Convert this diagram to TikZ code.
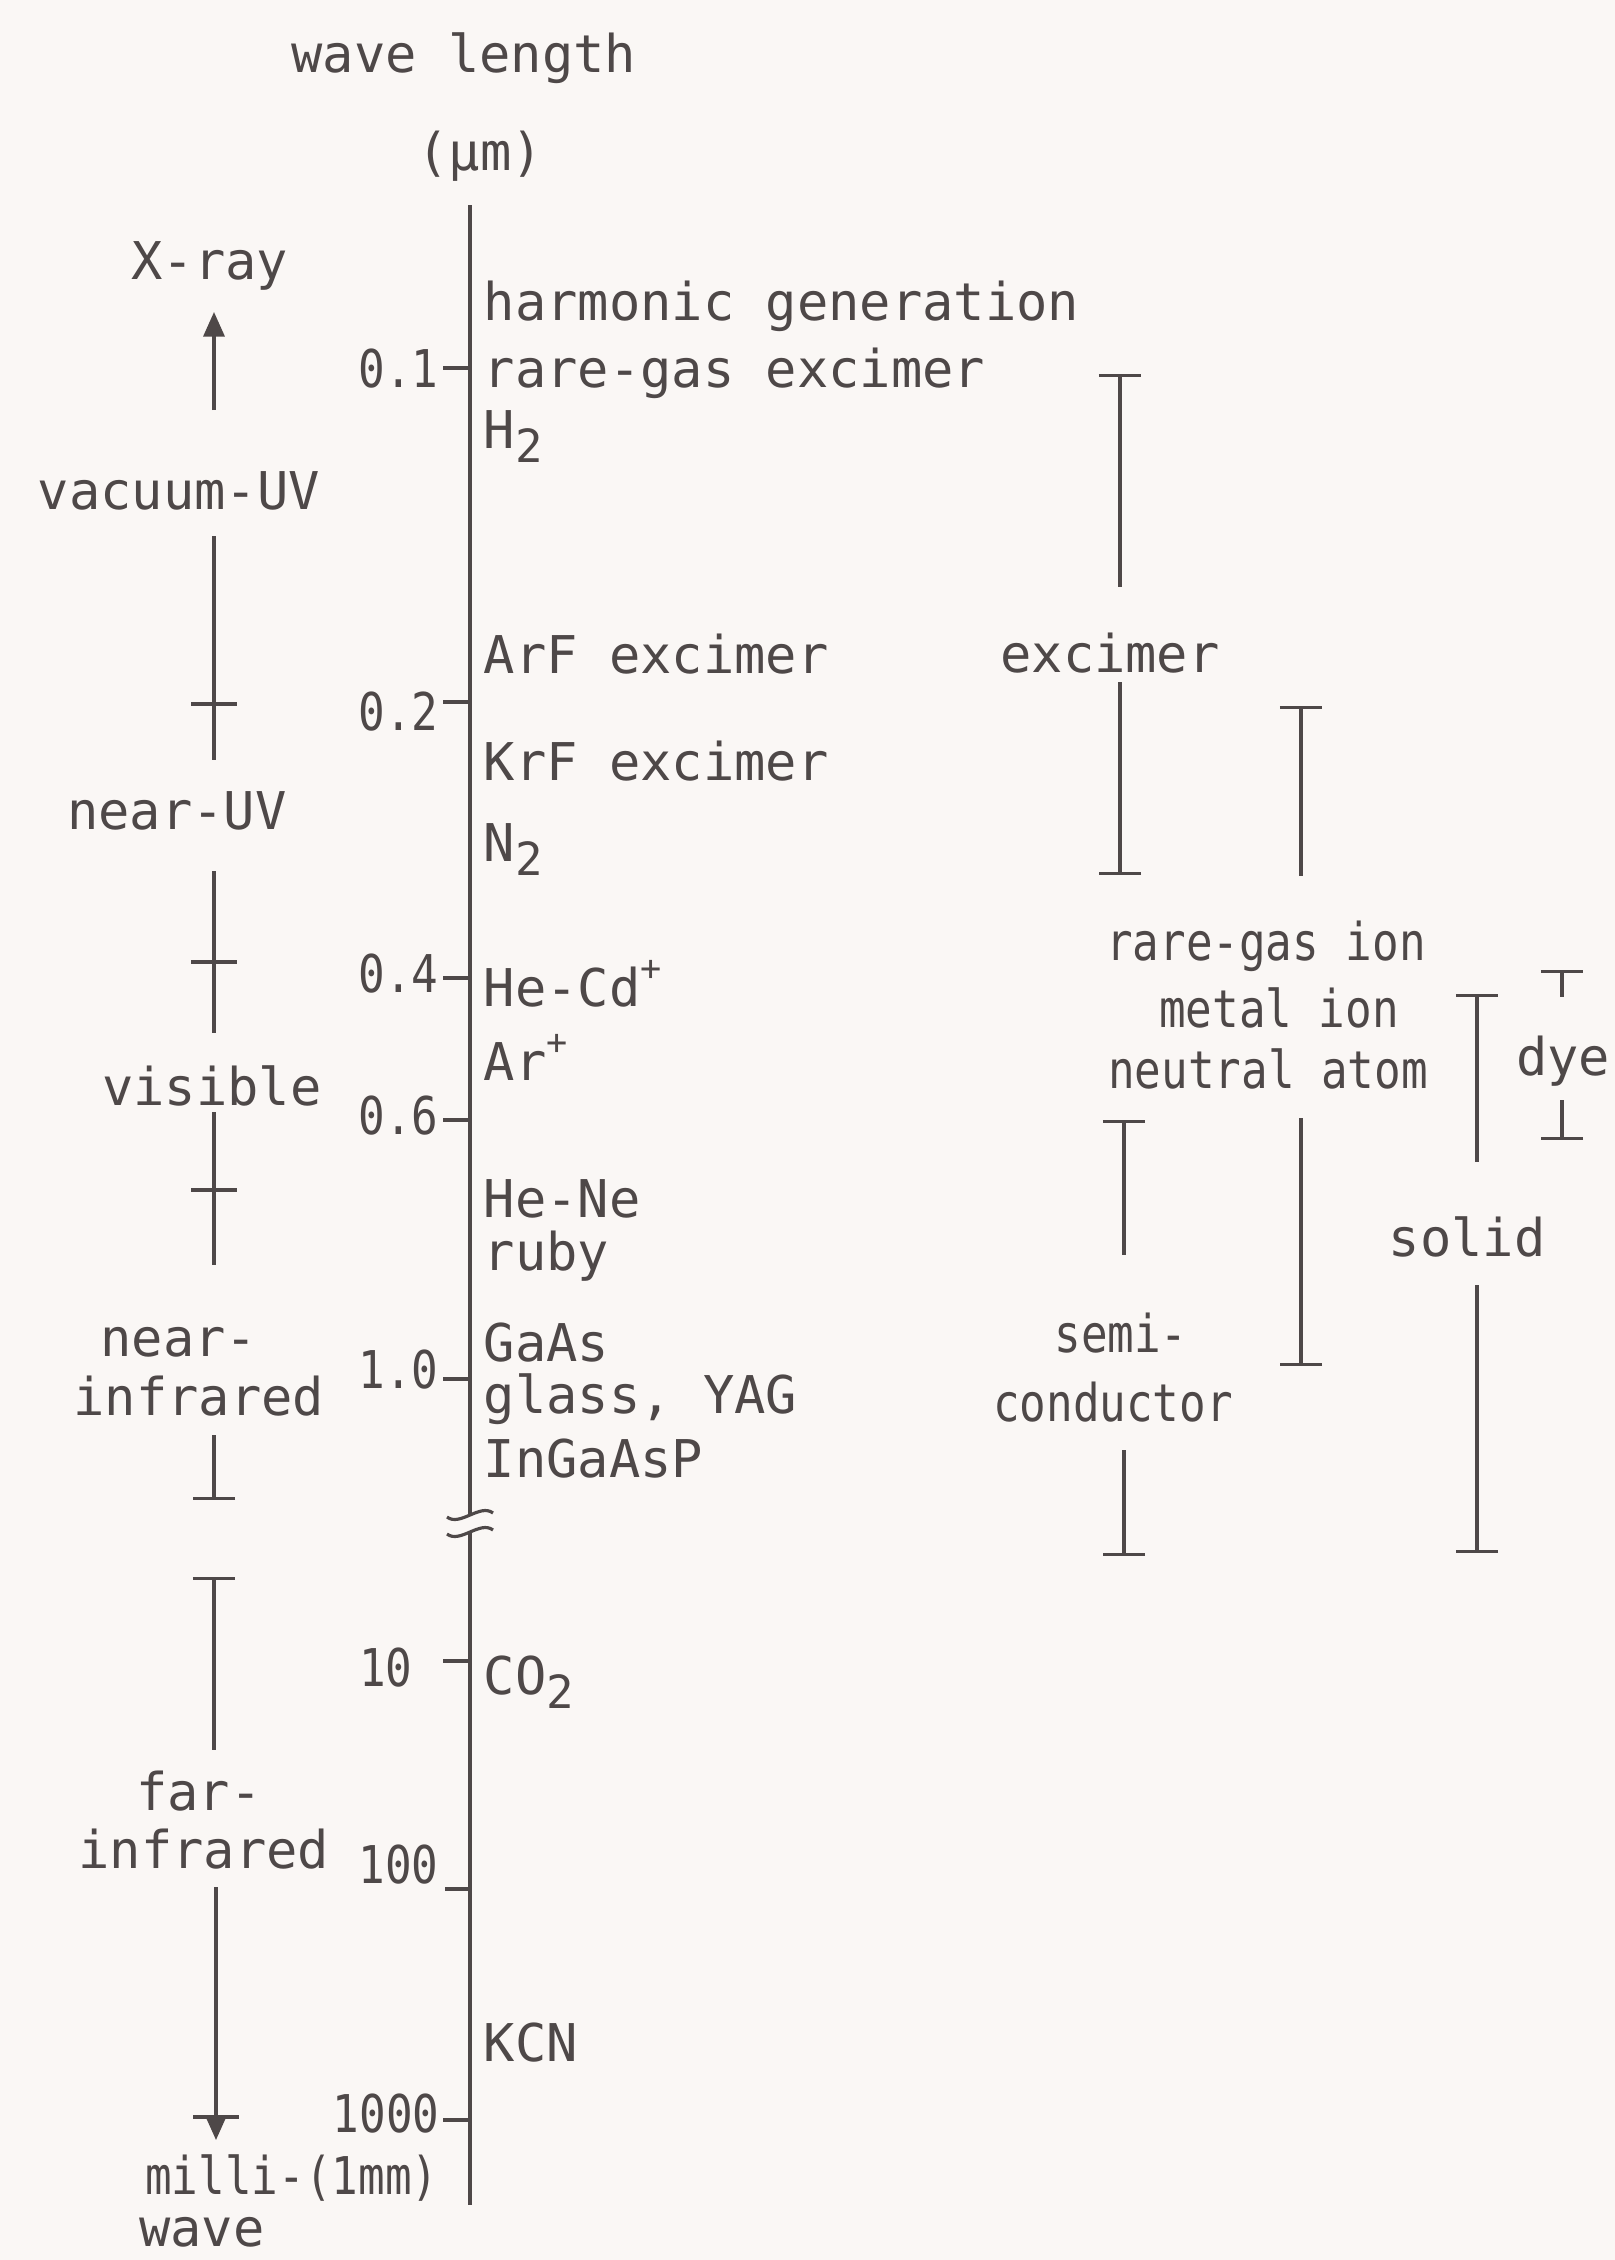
\documentclass[tikz,border=0pt]{standalone}
\usepackage{fontspec}
\setmainfont{DejaVu Sans Mono}
\newfontfamily\slimfont[FakeStretch=0.85]{DejaVu Sans Mono}
\usetikzlibrary{arrows.meta}
\definecolor{paper}{RGB}{250,247,245}
\definecolor{ink}{RGB}{78,72,72}
\newcommand{\subtwo}{\raisebox{-0.5ex}{\fontsize{13}{13}\selectfont 2}}
\newcommand{\supplus}{\raisebox{0.9ex}{\fontsize{10}{10}\selectfont +}}

\begin{document}
\begin{tikzpicture}[
    x=0.01cm, y=-0.01cm,
    lbl/.style={inner sep=0pt, text=ink, font=\fontsize{14.8}{17}\selectfont},
    slim/.style={inner sep=0pt, text=ink, font=\slimfont\fontsize{14.8}{17}\selectfont},
    rng/.style={draw=ink, line width=0.9pt},
    topbar/.style={rng, {Bar[width=12pt]}-},
    botbar/.style={rng, -{Bar[width=12pt]}},
    uparrow/.style={rng, -{Triangle[length=7pt, width=6pt]}}
]
\path[fill=paper, use as bounding box] (0,0) rectangle (1615,2260);

% wavelength axis
\node[lbl, anchor=base] (head) at (464,72) {wave length};
\node[lbl, anchor=base] (unit) at (480,170) {(µm)};
\coordinate (axtop) at (470,205);
\coordinate (brkup) at (470,1515);
\coordinate (brklo) at (470,1532);
\coordinate (axbot) at (470,2205);
\draw[rng, line width=1pt] (axtop) -- (brkup);
\draw[rng, line width=1pt] (brklo) -- (axbot);
\draw[rng] (447,1517) .. controls (460,1527) and (480,1503) .. (493,1513);
\draw[rng] (447,1534) .. controls (460,1544) and (480,1520) .. (493,1530);

% ticks
\coordinate (t01) at (470,368);
\coordinate (t02) at (470,702);
\coordinate (t04) at (470,978);
\coordinate (t06) at (470,1120);
\coordinate (t10) at (470,1379);
\coordinate (t1e1) at (470,1661);
\coordinate (t1e2) at (470,1889);
\coordinate (t1e3) at (470,2120);
\draw[rng] (t01) -- ++(-27,0);
\draw[rng] (t02) -- ++(-27,0);
\draw[rng] (t04) -- ++(-27,0);
\draw[rng] (t06) -- ++(-27,0);
\draw[rng] (t10) -- ++(-27,0);
\draw[rng] (t1e1) -- ++(-27,0);
\draw[rng] (t1e2) -- ++(-25,0);
\draw[rng] (t1e3) -- ++(-27,0);
\node[slim, anchor=base east] (v01) at (439,387) {0.1};
\node[slim, anchor=base east] (v02) at (439,730) {0.2};
\node[slim, anchor=base east] (v04) at (439,992) {0.4};
\node[slim, anchor=base east] (v06) at (439,1134) {0.6};
\node[slim, anchor=base east] (v10) at (439,1388) {1.0};
\node[slim, anchor=base east] (v1e1) at (413,1686) {10};
\node[slim, anchor=base east] (v1e2) at (439,1883) {100};
\node[slim, anchor=base east] (v1e3) at (440,2132) {1000};

% lasers along the axis
\node[lbl, anchor=base west] (harm) at (483,320) {harmonic generation};
\node[lbl, anchor=base west] (rgex) at (483,387) {rare-gas excimer};
\node[lbl, anchor=base west] (htwo) at (483,448) {H\subtwo};
\node[lbl, anchor=base west] (arf) at (483,673) {ArF excimer};
\node[lbl, anchor=base west] (krf) at (483,780) {KrF excimer};
\node[lbl, anchor=base west] (ntwo) at (483,861) {N\subtwo};
\node[lbl, anchor=base west] (hecd) at (483,1006) {He-Cd\supplus};
\node[lbl, anchor=base west] (arion) at (483,1080) {Ar\supplus};
\node[lbl, anchor=base west] (hene) at (483,1217) {He-Ne};
\node[lbl, anchor=base west] (ruby) at (483,1270) {ruby};
\node[lbl, anchor=base west] (gaas) at (483,1361) {GaAs};
\node[lbl, anchor=base west] (yag) at (483,1413) {glass, YAG};
\node[lbl, anchor=base west] (ingaasp) at (483,1477) {InGaAsP};
\node[lbl, anchor=base west] (cotwo) at (483,1694) {CO\subtwo};
\node[lbl, anchor=base west] (kcn) at (483,2061) {KCN};

% spectral regions
\node[lbl, anchor=base] (xray) at (210,279) {X-ray};
\node[lbl, anchor=base] (vuv) at (179,509) {vacuum-UV};
\node[lbl, anchor=base] (nuv) at (177,829) {near-UV};
\node[lbl, anchor=base] (vis) at (212,1105) {visible};
\node[lbl, anchor=base] (nirA) at (179,1356) {near-};
\node[lbl, anchor=base] (nirB) at (199,1415) {infrared};
\node[lbl, anchor=base] (firA) at (199,1810) {far-};
\node[lbl, anchor=base] (firB) at (204,1868) {infrared};
\node[slim, anchor=base east] (mmw) at (439,2194) {milli-(1mm)};
\node[lbl, anchor=base] (wave) at (202,2246) {wave};

\coordinate (xr1) at (214,410);
\coordinate (xr2) at (214,312);
\draw[uparrow] (xr1) -- (xr2);
\coordinate (r1a) at (214,536);
\coordinate (r1b) at (214,760);
\draw[rng] (r1a) -- (r1b);
\draw[rng] (214,704) ++(-23,0) -- ++(46,0);
\coordinate (r2a) at (214,871);
\coordinate (r2b) at (214,1033);
\draw[rng] (r2a) -- (r2b);
\draw[rng] (214,962) ++(-23,0) -- ++(46,0);
\coordinate (r3a) at (214,1112);
\coordinate (r3b) at (214,1265);
\draw[rng] (r3a) -- (r3b);
\draw[rng] (214,1190) ++(-23,0) -- ++(46,0);
\coordinate (r4a) at (214,1435);
\coordinate (r4b) at (214,1500);
\draw[botbar] (r4a) -- (r4b);
\coordinate (r5a) at (214,1577);
\coordinate (r5b) at (214,1750);
\draw[topbar] (r5a) -- (r5b);
\coordinate (r6a) at (216,1887);
\coordinate (r6b) at (216,2140);
\draw[uparrow] (r6a) -- (r6b);
\draw[rng] (216,2117) ++(-23,0) -- ++(46,0);

% laser families
\node[lbl, anchor=base] (excimer) at (1110,672) {excimer};
\coordinate (ex1) at (1120,374);
\coordinate (ex2) at (1120,875);
\draw[topbar] (ex1) -- (ex1 |- 0,587);
\draw[botbar] (ex1 |- 0,682) -- (ex2);

\node[slim, anchor=base] (rgion) at (1266,960) {rare-gas ion};
\node[slim, anchor=base] (metal) at (1279,1027) {metal ion};
\node[slim, anchor=base] (neutral) at (1268,1088) {neutral atom};
\coordinate (gas1) at (1301,706);
\coordinate (gas2) at (1301,1366);
\draw[topbar] (gas1) -- (gas1 |- 0,876);
\draw[botbar] (gas1 |- 0,1118) -- (gas2);

\node[slim, anchor=base] (semiA) at (1121,1352) {semi-};
\node[slim, anchor=base] (semiB) at (1113,1421) {conductor};
\coordinate (sc1) at (1124,1120);
\coordinate (sc2) at (1124,1556);
\draw[topbar] (sc1) -- (sc1 |- 0,1255);
\draw[botbar] (sc1 |- 0,1450) -- (sc2);

\node[lbl, anchor=base] (solid) at (1467,1256) {solid};
\coordinate (so1) at (1477,994);
\coordinate (so2) at (1477,1553);
\draw[topbar] (so1) -- (so1 |- 0,1162);
\draw[botbar] (so1 |- 0,1285) -- (so2);

\node[lbl, anchor=base] (dye) at (1563,1075) {dye};
\coordinate (dy1) at (1562,970);
\coordinate (dy2) at (1562,1140);
\draw[topbar] (dy1) -- (dy1 |- 0,997);
\draw[botbar] (dy1 |- 0,1100) -- (dy2);
\end{tikzpicture}
\end{document}
